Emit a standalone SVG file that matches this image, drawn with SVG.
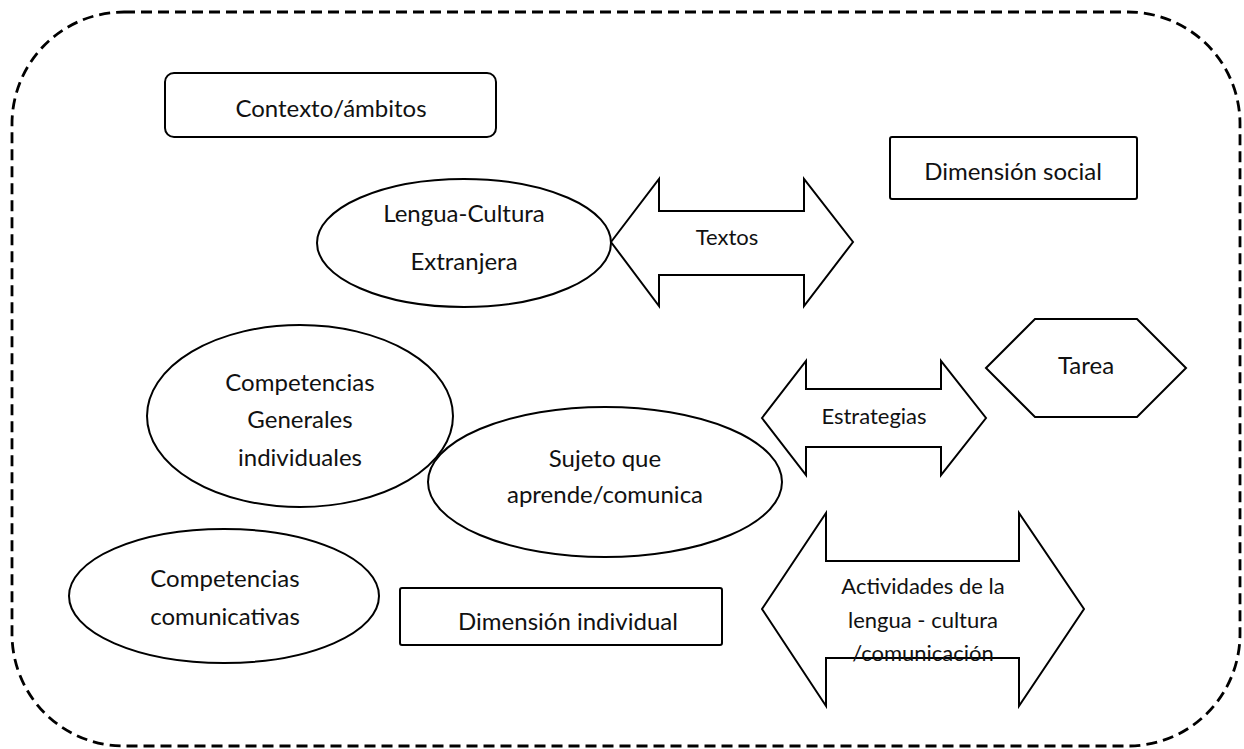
<svg xmlns="http://www.w3.org/2000/svg" width="1244" height="749" viewBox="0 0 1244 749">
<style>
.s{fill:#fff;stroke:#000;stroke-width:2}
.t{font-family:Lato,"Liberation Sans",sans-serif;font-size:24px;fill:#111;text-anchor:middle}
.ts{font-size:22px}
</style>
<rect x="0" y="0" width="1244" height="749" fill="#fff"/>
<rect id="frame" x="12" y="12" width="1228" height="734" rx="112" ry="112" fill="none" stroke="#000" stroke-width="2.8" stroke-dasharray="11 6"/>
<g id="connectors">
<g id="textos">
<polygon class="s" points="611,242 659,179 659,211 804,211 804,179 853,242 804,306 804,275 659,275 659,306"/>
<text class="t ts" x="727" y="245">Textos</text>
</g>
<g id="estrategias">
<polygon class="s" points="762,418 806,361 806,389 941,389 941,361 986,418 941,475 941,447 806,447 806,475"/>
<text class="t ts" x="874" y="424">Estrategias</text>
</g>
<g id="actividades">
<polygon class="s" points="762,609 826,513 826,561 1019,561 1019,513 1084,609 1019,706 1019,658 826,658 826,706"/>
<text class="t ts" x="923" y="594">Actividades de la</text>
<text class="t ts" x="923" y="628">lengua - cultura</text>
<text class="t ts" x="923" y="661">/comunicación</text>
</g>
</g>
<g id="contexto">
<rect class="s" x="165" y="73" width="331" height="64" rx="9"/>
<text class="t" x="331" y="117">Contexto/ámbitos</text>
</g>
<g id="dimension-social">
<rect class="s" x="890" y="137" width="247" height="62" rx="2"/>
<text class="t" x="1013" y="180">Dimensión social</text>
</g>
<g id="lengua-cultura">
<ellipse class="s" cx="464" cy="243" rx="147" ry="64"/>
<text class="t" x="464" y="222">Lengua-Cultura</text>
<text class="t" x="464" y="270">Extranjera</text>
</g>
<g id="tarea">
<polygon class="s" points="986,368 1035,319 1137,319 1186,368 1137,417 1035,417"/>
<text class="t" x="1086" y="374">Tarea</text>
</g>
<g id="competencias-generales">
<ellipse class="s" cx="300" cy="416" rx="153" ry="91"/>
<text class="t" x="300" y="391">Competencias</text>
<text class="t" x="300" y="428">Generales</text>
<text class="t" x="300" y="466">individuales</text>
</g>
<g id="sujeto">
<ellipse class="s" cx="605" cy="482" rx="177" ry="75" fill-opacity="0"/>
<text class="t" x="605" y="467">Sujeto que</text>
<text class="t" x="605" y="503">aprende/comunica</text>
</g>
<g id="competencias-comunicativas">
<ellipse class="s" cx="224" cy="596" rx="155" ry="67"/>
<text class="t" x="225" y="587">Competencias</text>
<text class="t" x="225" y="625">comunicativas</text>
</g>
<g id="dimension-individual">
<rect class="s" x="400" y="588" width="322" height="57" rx="2"/>
<text class="t" x="568" y="630">Dimensión individual</text>
</g>
</svg>
